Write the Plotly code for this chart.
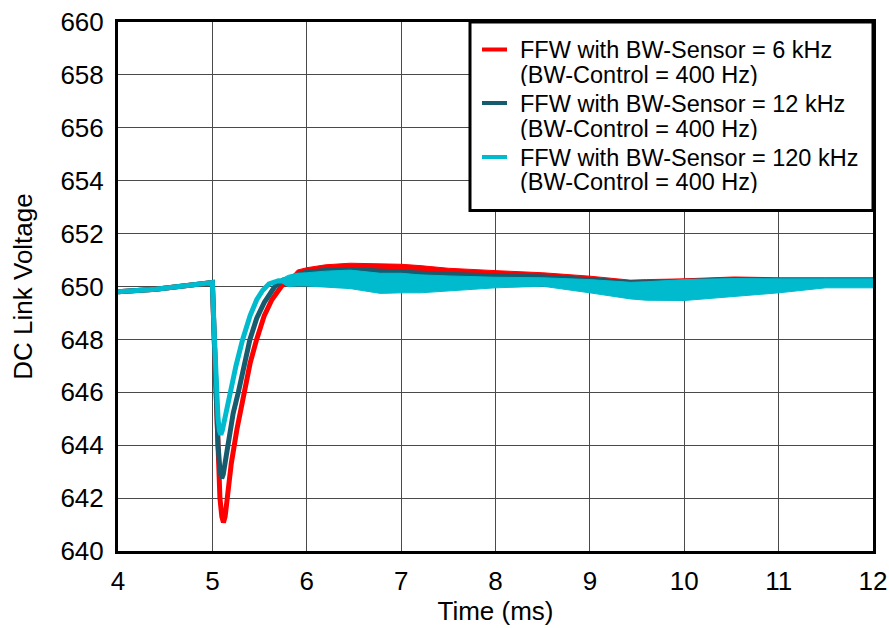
import plotly.graph_objects as go

# ---------------- data ----------------
t_pre = [4.0, 4.2, 4.4, 4.6, 4.8, 4.95, 5.0]
v_pre = [649.8, 649.83, 649.9, 649.98, 650.07, 650.14, 650.15]

# 6 kHz (red)
t_red_dip = [5.02, 5.04, 5.06, 5.08, 5.1, 5.117, 5.135, 5.16, 5.2, 5.26, 5.335, 5.4, 5.469, 5.55, 5.63, 5.73, 5.82]
v_red_dip = [648.0, 646.0, 643.8, 642.0, 641.3, 641.08, 641.3, 642.1, 643.3, 644.6, 646.0, 647.1, 648.0, 648.9, 649.5, 650.0, 650.3]
t_red_tail = [5.9, 6.0, 6.2, 6.46, 6.78, 7.0, 7.2, 7.5, 8.0, 8.5, 9.0, 9.43, 9.6, 10.0, 10.53, 11.0, 11.5, 12.0]
red_hi = [650.62, 650.71, 650.82, 650.88, 650.87, 650.84, 650.79, 650.69, 650.6, 650.52, 650.39, 650.24, 650.26, 650.29, 650.36, 650.33, 650.33, 650.33]
red_lo = [650.25, 650.15, 650.1, 650.05, 649.95, 649.95, 649.95, 650.0, 650.1, 650.15, 649.95, 649.75, 649.7, 649.7, 649.8, 649.9, 650.05, 650.05]

# 12 kHz (dark teal)
t_dk_dip = [5.02, 5.04, 5.06, 5.08, 5.099, 5.115, 5.14, 5.18, 5.22, 5.275, 5.33, 5.398, 5.47, 5.55, 5.662, 5.75]
v_dk_dip = [648.0, 645.8, 644.0, 643.05, 642.75, 642.9, 643.5, 644.4, 645.2, 646.0, 646.9, 648.0, 648.8, 649.4, 650.0, 650.25]
t_dk_tail = [5.85, 6.0, 6.2, 6.46, 6.78, 7.0, 7.2, 7.5, 8.0, 8.5, 9.0, 9.43, 9.6, 10.0, 10.53, 11.0, 11.5, 12.0]
dk_hi = [650.45, 650.62, 650.68, 650.71, 650.64, 650.62, 650.58, 650.53, 650.48, 650.44, 650.33, 650.22, 650.22, 650.26, 650.33, 650.3, 650.3, 650.3]
dk_lo = [650.1, 650.05, 650.0, 649.95, 649.85, 649.85, 649.85, 649.9, 650.05, 650.1, 649.9, 649.7, 649.65, 649.65, 649.75, 649.85, 650.0, 650.0]

# 120 kHz (cyan)
t_cy_dip = [5.02, 5.04, 5.06, 5.075, 5.089, 5.105, 5.13, 5.16, 5.194, 5.25, 5.321, 5.4, 5.47, 5.532, 5.6, 5.7]
v_cy_dip = [648.2, 646.4, 645.0, 644.55, 644.4, 644.55, 645.0, 645.5, 646.0, 647.0, 648.0, 648.9, 649.5, 649.85, 650.1, 650.22]
t_cy_tail = [5.8, 5.9, 6.0, 6.2, 6.46, 6.78, 7.0, 7.2, 7.5, 8.0, 8.5, 9.0, 9.43, 9.6, 10.0, 10.53, 11.0, 11.5, 12.0]
cy_hi = [650.42, 650.5, 650.52, 650.58, 650.62, 650.5, 650.5, 650.44, 650.4, 650.35, 650.33, 650.26, 650.16, 650.18, 650.26, 650.3, 650.29, 650.29, 650.29]
cy_lo = [650.0, 650.02, 650.02, 649.98, 649.92, 649.74, 649.76, 649.76, 649.82, 649.95, 650.01, 649.76, 649.53, 649.48, 649.47, 649.63, 649.76, 649.95, 649.95]

legend_line1 = ["FFW with BW-Sensor = 6 kHz",
                "FFW with BW-Sensor = 12 kHz",
                "FFW with BW-Sensor = 120 kHz"]
legend_line2 = ["(BW-Control = 400 Hz)"] * 3
colors = ["#FF0000", "#165B6E", "#00BACD"]

x_ticks = [4, 5, 6, 7, 8, 9, 10, 11, 12]
y_ticks = [640, 642, 644, 646, 648, 650, 652, 654, 656, 658, 660]

series = [
    (t_red_dip, v_red_dip, t_red_tail, red_hi, red_lo),
    (t_dk_dip, v_dk_dip, t_dk_tail, dk_hi, dk_lo),
    (t_cy_dip, v_cy_dip, t_cy_tail, cy_hi, cy_lo),
]

# ---------------- layout geometry ----------------
W, H = 889, 628
L, R, T, B = 118, 16, 22, 77
PW, PH = W - L - R, H - T - B


def px_x(p):
    return (p - L) / PW


def px_y(p):
    return 1 - (p - T) / PH


FONT = "Liberation Sans, Arial, sans-serif"
fig = go.Figure()

for (td, vd, tt, hi_t, lo_t), name, col in zip(series, legend_line1, colors):
    t = t_pre + td + tt
    hi = v_pre + vd + hi_t
    lo = v_pre + vd + lo_t
    mid = [(a + b) / 2 for a, b in zip(hi, lo)]
    fig.add_trace(go.Scatter(x=t + t[::-1], y=hi + lo[::-1], fill="toself",
                             fillcolor=col, line=dict(color=col, width=1),
                             mode="lines", showlegend=False, hoverinfo="skip"))
    fig.add_trace(go.Scatter(x=t, y=mid, mode="lines", name=name,
                             line=dict(color=col, width=5),
                             showlegend=False))

# ---------------- legend drawn as box + samples + text ----------------
fig.add_shape(type="rect", xref="paper", yref="paper",
              x0=px_x(470), x1=1, y0=px_y(210.5), y1=1,
              line=dict(color="black", width=3), fillcolor="white", layer="above")
sample_y = [49.5, 103, 157]
text_y = [(50.5, 75), (104, 128.5), (157.5, 182)]
for i, col in enumerate(colors):
    fig.add_shape(type="line", xref="paper", yref="paper",
                  x0=px_x(482), x1=px_x(507), y0=px_y(sample_y[i]), y1=px_y(sample_y[i]),
                  line=dict(color=col, width=4), layer="above")
    for txt, yy in zip([legend_line1[i], legend_line2[i]], text_y[i]):
        fig.add_annotation(xref="paper", yref="paper", x=px_x(519), y=px_y(yy),
                           xanchor="left", yanchor="middle", showarrow=False,
                           height=22, borderpad=0,
                           text=txt, font=dict(family=FONT, size=23.5, color="black"))

fig.update_layout(
    width=W, height=H,
    margin=dict(l=L, r=R, t=T, b=B, autoexpand=False),
    paper_bgcolor="white", plot_bgcolor="white",
    font=dict(family=FONT, color="black", size=26),
    showlegend=False,
)
fig.update_xaxes(range=[4, 12], tickvals=x_ticks, ticktext=[str(v) for v in x_ticks],
                 showgrid=True, gridcolor="#4a4a4a", gridwidth=1,
                 showline=True, linecolor="black", linewidth=3, mirror=True,
                 ticks="", ticklabelstandoff=5, zeroline=False, automargin=False,
                 tickfont=dict(size=26),
                 title=dict(text="Time (ms)", font=dict(size=26), standoff=4))
fig.update_yaxes(range=[640, 660], tickvals=y_ticks, ticktext=[str(v) for v in y_ticks],
                 showgrid=True, gridcolor="#4a4a4a", gridwidth=1,
                 showline=True, linecolor="black", linewidth=3, mirror=True,
                 ticks="", ticklabelstandoff=6, zeroline=False, automargin=False,
                 tickfont=dict(size=26),
                 title=dict(text="DC Link Voltage", font=dict(size=26), standoff=21))

fig.write_html("out.html", config={"displayModeBar": False},
               post_script="document.body.style.margin='0';")
